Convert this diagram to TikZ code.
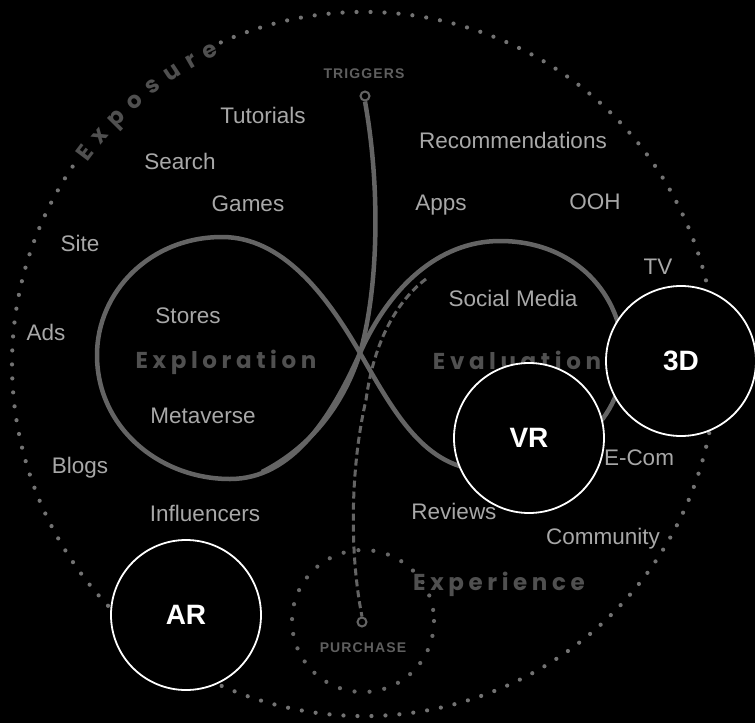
\documentclass[tikz,border=0pt]{standalone}
\usepackage{fontspec}
\setmainfont{Liberation Sans}
\newfontfamily\stagefont[LetterSpace=20]{Poppins}
\newfontfamily\stageplain{Poppins}
\newfontfamily\tagfont[LetterSpace=8]{Liberation Sans}
\usetikzlibrary{decorations.text}
\definecolor{labelcol}{RGB}{168,168,168}
\definecolor{loopcol}{RGB}{100,100,100}
\definecolor{dotcol}{RGB}{115,115,115}
\definecolor{stagecol}{RGB}{80,80,80}
\definecolor{tagcol}{RGB}{95,95,95}
\begin{document}
\begin{tikzpicture}[x=1pt,y=-1pt,
  lbl/.style={text=labelcol, font=\fontsize{22.5}{26}\selectfont, inner sep=0pt, anchor=base},
  stage/.style={text=stagecol, font=\stagefont\bfseries\fontsize{23}{27}\selectfont, inner sep=0pt, anchor=base},
  tag/.style={text=tagcol, font=\tagfont\bfseries\fontsize{14}{16}\selectfont, inner sep=0pt, anchor=base},
  loopline/.style={draw=loopcol, line width=4.5pt},
  dashline/.style={draw=loopcol, line width=3pt, dash pattern=on 7pt off 4pt},
  dotring/.style={draw=dotcol, line width=4.2pt, line cap=round, dash pattern=on 0pt off 14pt},
  smalldot/.style={circle, draw=loopcol, line width=2pt, minimum size=9pt, inner sep=0pt},
  tech/.style={circle, draw=white, line width=1.8pt, fill=black, minimum size=150pt, inner sep=0pt, text=white, font=\bfseries\fontsize{28}{32}\selectfont},
]
\fill[black] (0,0) rectangle (755,723);
\useasboundingbox (0,0) rectangle (755,723);

\coordinate (C) at (364,364);
\coordinate (P) at (363,621);
\coordinate (X) at (360,353);
\coordinate (dashstart) at (426,279);
\coordinate (trigend) at (262,472);

% outer dotted ring (gap for the Exposure lettering)
\draw[dotring] ([shift={(-114:352)}]C) arc[start angle=-114, end angle=215, radius=352];
\path[decorate, decoration={text along path,
   text={|\stageplain\bfseries\fontsize{23}{27}\selectfont\color{stagecol}|Exposure},
   text align={fit to path}}]
   ([shift={(-144:342)}]C) arc[start angle=-144, end angle=-115, radius=342];

% purchase dotted ring
\draw[dotring, draw=dotcol!90!black, dash pattern=on 0pt off 15pt] (P) circle[radius=71];

% infinity loop
\draw[loopline] (X) .. controls (326,294) and (282,237) .. (222,237)
  .. controls (150,237) and (97,292) .. (97,355)
  .. controls (97,428) and (160,479) .. (230,479)
  .. controls (292,479) and (331,418) .. (X)
  .. controls (389,288) and (438,241) .. (500,241)
  .. controls (575,241) and (623,295) .. (623,357)
  .. controls (623,425) and (562,470) .. (486,470)
  .. controls (425,470) and (394,412) .. (X);

% trigger and purchase markers
\node[smalldot] (trigdot) at (365,96) {};
\node[smalldot] (purdot) at (362,622) {};
\node[tag] (trig) at (364,78) {TRIGGERS};
\node[tag] (purch) at (363,652) {PURCHASE};

\draw[loopline] (trigdot.south) .. controls (381,190) and (378,290) .. (X)
  .. controls (345,400) and (315,445) .. (trigend);
\draw[dashline] (dashstart) .. controls (398,300) and (374,340) .. (366,400)
  .. controls (352,460) and (348,545) .. (purdot.north);

% stage labels
\node[stage] (explo) at (226,368) {Exploration};
\node[stage] (evalu) at (517,369) {Evaluation};
\node[stage] (exper) at (499,590) {Experience};

% touchpoint labels
\node[lbl] (tut) at (263,123) {Tutorials};
\node[lbl] (search) at (180,169) {Search};
\node[lbl] (games) at (248,211) {Games};
\node[lbl] (site) at (80,251) {Site};
\node[lbl] (rec) at (513,148) {Recommendations};
\node[lbl] (apps) at (441,210) {Apps};
\node[lbl] (ooh) at (595,209) {OOH};
\node[lbl] (tv) at (658,274) {TV};
\node[lbl] (social) at (513,306) {Social Media};
\node[lbl] (stores) at (188,323) {Stores};
\node[lbl] (ads) at (46,340) {Ads};
\node[lbl] (meta) at (203,423) {Metaverse};
\node[lbl] (blogs) at (80,473) {Blogs};
\node[lbl] (ecom) at (639,465) {E-Com};
\node[lbl] (infl) at (205,521) {Influencers};
\node[lbl] (reviews) at (454,519) {Reviews};
\node[lbl] (comm) at (603,544) {Community};

% technology circles
\node[tech] (ar) at (186,615) {AR};
\node[tech] (vr) at (529,438) {VR};
\node[tech] (td) at (681,361) {3D};
\end{tikzpicture}
\end{document}
